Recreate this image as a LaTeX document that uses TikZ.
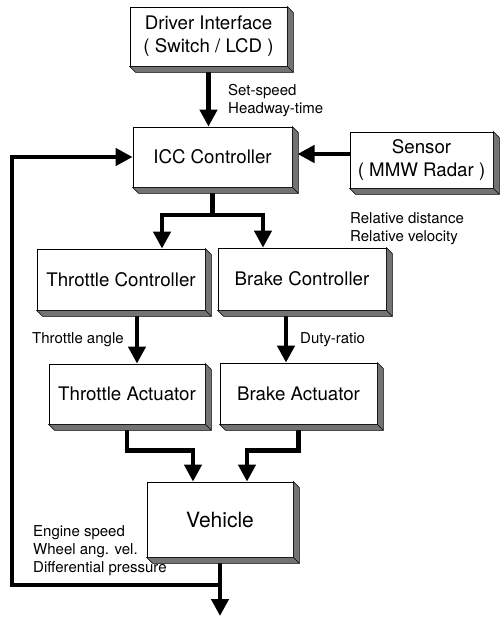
\documentclass[tikz,border=0pt]{standalone}
\usepackage{fontspec}
\setmainfont{TeX Gyre Heros}
\usetikzlibrary{arrows.meta,calc}
\tikzset{
  blk/.style={draw, line width=0.8pt, fill=white, inner sep=0pt, align=center,
    font=\fontsize{18.7}{23}\selectfont},
  lbl/.style={inner sep=0pt, align=left, anchor=west, font=\fontsize{15}{18}\selectfont},
  arr/.style={line width=4.5pt, -{Triangle[width=17pt,length=17pt]}},
  ln/.style={line width=4.5pt},
  shd/.style={fill=black!55, draw=black, line width=0.6pt}
}
\newcommand\shadowof[1]{%
  \filldraw[shd] (#1.north east) -- ++(6,6) -- ($(#1.south east)+(6,6)$)
    -- ($(#1.south west)+(6,6)$) -- (#1.south west) -- (#1.south east) -- cycle;
  \draw[line width=0.6pt] (#1.south east) -- ++(6,6);}
\begin{document}
\begin{tikzpicture}[x=1pt,y=-1pt]
\useasboundingbox (0,0) rectangle (499,617);
% blocks
\node[blk, minimum width=157pt, minimum height=59pt] (drv) at (208.5,36.5) {Driver Interface\\( Switch / LCD )};
\node[blk, minimum width=159pt, minimum height=60pt] (icc) at (212.5,157) {ICC Controller};
\node[blk, minimum width=143pt, minimum height=56pt] (sen) at (421.5,160) {Sensor\\( MMW Radar )};
\node[blk, minimum width=168pt, minimum height=61pt] (tc) at (121,279.5) {Throttle Controller};
\node[blk, minimum width=168pt, minimum height=62pt] (bc) at (302,279) {Brake Controller};
\node[blk, minimum width=156pt, minimum height=60pt] (ta) at (127,394) {Throttle Actuator};
\node[blk, minimum width=157pt, minimum height=61pt] (ba) at (298.5,393.5) {Brake Actuator};
\node[blk, minimum width=146pt, minimum height=75pt, font=\fontsize{21}{25}\selectfont] (veh) at (220,519.5) {Vehicle};
% helper coordinates
\coordinate (br) at (212.5,215);
\coordinate (tcin) at ([xshift=41pt]tc.north);
\coordinate (bcin) at ([xshift=-39pt]bc.north);
\coordinate (taa) at ([xshift=10pt]ta.north);
\coordinate (baa) at ([xshift=-12.5pt]ba.north);
\coordinate (va) at ([xshift=-27pt]veh.north);
\coordinate (vb) at ([xshift=27pt]veh.north);
\coordinate (out) at (220,616);
\coordinate (fb) at (220,585);
\coordinate (fbl) at (12,585);
\coordinate (sa) at (297.5,154);
% connectors
\draw[arr] (drv.south) -- (drv.south |- icc.north);
\draw[arr] (sen.west |- sa) -- (sa);
\draw[ln] (icc.south) -- (br);
\draw[arr] (br) -| (tcin);
\draw[arr] (br) -| (bcin);
\draw[arr] (tc.south -| taa) -- (taa);
\draw[arr] (bc.south -| baa) -- (baa);
\draw[arr] (ta.south) -- ++(0,26) -| (va);
\draw[arr] (ba.south) -- ++(0,26) -| (vb);
\draw[arr] (veh.south) -- (out);
\draw[arr] (fb) -- (fbl) |- (icc.west);
% shadows
\shadowof{drv}
\shadowof{icc}
\shadowof{sen}
\shadowof{tc}
\shadowof{bc}
\shadowof{ta}
\shadowof{ba}
\shadowof{veh}
% labels
\node[lbl] (l1) at (228,101) {Set-speed\\Headway-time};
\node[lbl] (l2) at (350,228.5) {Relative distance\\Relative velocity};
\node[lbl] (l3) at (32,340) {Throttle angle};
\node[lbl] (l4) at (300,340) {Duty-ratio};
\node[lbl] (l5) at (33,551) {Engine speed\\Wheel ang. vel.\\Differential pressure};
\end{tikzpicture}
\end{document}
